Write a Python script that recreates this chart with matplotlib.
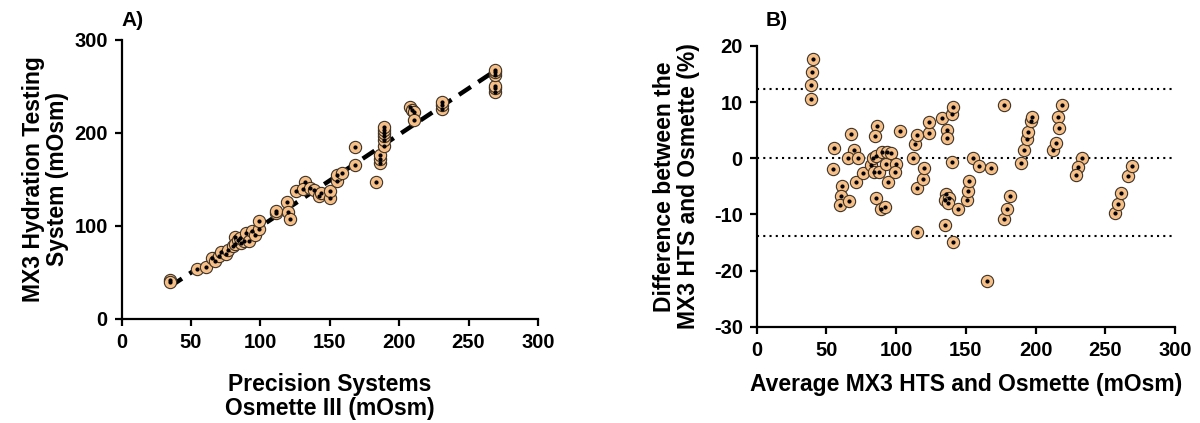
import matplotlib
matplotlib.use("Agg")
import matplotlib.pyplot as plt
import numpy as np

plt.rcParams["font.family"] = ["Liberation Sans", "DejaVu Sans"]
plt.rcParams["font.weight"] = "bold"
plt.rcParams["axes.unicode_minus"] = False

# Panel A: Osmette III (x) vs MX3 HTS (y), mOsm
osmette = [35, 35, 54, 61, 65, 67, 70, 72, 75, 77, 80, 82, 82, 84, 86, 85, 88, 90, 92, 94,
           96, 99, 99, 111, 111, 119, 120, 121, 126, 132, 131, 136, 139, 142, 144, 150, 150,
           155, 155, 159, 168, 168, 183, 186, 186, 186, 189, 189, 189, 189, 189, 189, 208,
           209, 211, 211, 231, 231, 231, 269, 269, 269, 269, 269, 269]
mx3 = [42, 40, 54, 56, 65, 62, 68, 72, 70, 74, 78, 88, 81, 85, 82, 87, 84, 92, 84, 95,
       90, 97, 105, 114, 116, 126, 115, 107, 138, 147, 140, 141, 139, 132, 135, 130, 138,
       148, 155, 157, 185, 166, 147, 168, 172, 176, 186, 192, 197, 200, 203, 206, 228,
       225, 222, 214, 226, 230, 233, 244, 248, 250, 262, 265, 268]
fit_slope = 0.99
fit_intercept = 0.3
fit_range = [35, 270]

# Panel B: Bland-Altman, average (mOsm) vs difference (%)
ba_avg = [40.1, 39.4, 38.7, 38.7, 55.4, 54.5, 60.9, 60.2, 59.7, 66.2, 67.6, 69.8, 65.7, 72.9,
          71.2, 76.0, 81.7, 83.2, 85.5, 84.1, 86.0, 84.8, 85.3, 87.7, 89.1, 89.6, 92.0, 92.5,
          93.2, 94.4, 96.0, 99.9, 99.2, 102.7, 112.3, 113.5, 114.7, 114.7, 114.7, 119.0,
          120.2, 123.3, 123.8, 132.9, 135.7, 136.2, 136.2, 135.0, 138.0, 137.4, 135.0, 139.8,
          141.0, 139.8, 141.0, 144.6, 150.5, 151.7, 152.4, 155.3, 159.6, 165.4, 168.0, 177.3,
          177.3, 179.2, 181.6, 189.5, 191.9, 193.5, 194.7, 196.4, 197.6, 212.7, 214.6, 216.3,
          217.0, 218.6, 233.0, 230.6, 229.0, 256.9, 259.3, 261.6, 266.4, 268.8]
ba_diff = [17.7, 15.4, 13.0, 10.5, 1.8, -1.9, -5.0, -6.7, -8.4, -7.6, 4.4, 1.5, 0.0, 0.0,
           -4.2, -2.6, -1.2, 0.0, 0.4, -2.5, 5.7, 4.0, -7.1, -2.4, -9.0, 1.1, -8.7, -1.0,
           1.1, -4.3, 1.0, -1.0, -2.5, 4.8, 0.0, 2.6, 4.2, -5.3, -13.2, -3.7,
           -1.7, 4.5, 6.4, 7.1, -6.3, 5.1, 3.6, -7.4, -7.1, -8.0, -11.8, 7.8,
           9.2, -0.7, -15.0, -9.0, -7.4, -5.9, -4.1, 0.0, -1.4, -21.8, -1.8, 9.5,
           -10.8, -9.0, -6.7, -0.8, 1.5, 3.5, 4.6, 6.6, 7.3, 1.4, 2.7, 7.3,
           5.4, 9.4, 0.0, -1.6, -2.9, -9.8, -8.2, -6.2, -3.1, -1.4]
bias = 0.0
loa_upper = 12.4
loa_lower = -13.9

FILL = "#f5bf87"
EDGE = "#3e3328"
TICK_FS = 14.5
LABEL_FS = 16.5


def style_axes(ax):
    for side in ["top", "right"]:
        ax.spines[side].set_visible(False)
    for side in ["left", "bottom"]:
        ax.spines[side].set_linewidth(1.6)
    ax.tick_params(direction="out", length=5, width=1.6, labelsize=TICK_FS, pad=5)
    for lab in ax.get_xticklabels() + ax.get_yticklabels():
        lab.set_fontweight("bold")


def draw_points(ax, x, y):
    ax.scatter(x, y, s=78, facecolor=FILL, edgecolor=EDGE, linewidth=0.8, zorder=3, clip_on=False)
    ax.scatter(x, y, s=4, color="black", zorder=4, clip_on=False)


fig = plt.figure(figsize=(12, 4.23), dpi=100)

# Panel A
axA = fig.add_axes([0.1013, 0.2459, 0.3470, 0.6600])
xs = np.array(fit_range, dtype=float)
axA.plot(xs, fit_slope * xs + fit_intercept, color="black", lw=3.2, dashes=(3.2, 2.0), zorder=2)
draw_points(axA, osmette, mx3)
axA.set_xlim(0, 300)
axA.set_ylim(0, 300)
axA.set_xticks(np.arange(0, 301, 50))
axA.set_yticks(np.arange(0, 301, 100))
style_axes(axA)
axA.set_xlabel("Precision Systems\nOsmette III (mOsm)", fontsize=LABEL_FS, fontweight="bold",
               labelpad=15, linespacing=1.05)
axA.set_ylabel("MX3 Hydration Testing\nSystem (mOsm)", fontsize=LABEL_FS, fontweight="bold",
               labelpad=4, linespacing=1.05)
fig.text(0.101, 0.952, "A)", fontsize=15, fontweight="bold", ha="left", va="center")

# Panel B
axB = fig.add_axes([0.6306, 0.2277, 0.3486, 0.6636])
for yv in [loa_upper, bias, loa_lower]:
    axB.axhline(yv, color="black", lw=1.5, linestyle=(0, (1, 2)), zorder=2)
draw_points(axB, ba_avg, ba_diff)
axB.set_xlim(0, 300)
axB.set_ylim(-30, 20)
axB.set_xticks(np.arange(0, 301, 50))
axB.set_yticks(np.arange(-30, 21, 10))
style_axes(axB)
axB.set_xlabel("Average MX3 HTS and Osmette (mOsm)", fontsize=LABEL_FS, fontweight="bold", labelpad=10)
axB.set_ylabel("Difference between the\nMX3 HTS and Osmette (%)", fontsize=LABEL_FS, fontweight="bold",
               labelpad=10, linespacing=1.05)
fig.text(0.638, 0.952, "B)", fontsize=15, fontweight="bold", ha="left", va="center")

fig.savefig("out.png", dpi=100)
